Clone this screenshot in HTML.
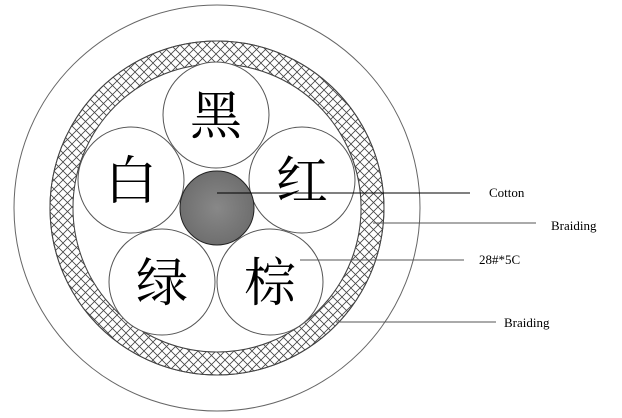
<!DOCTYPE html>
<html><head><meta charset="utf-8"><style>
html,body{margin:0;padding:0;background:#fff;}
svg{display:block;}
text{font-family:"Liberation Serif","Noto Serif CJK SC",serif;}
</style></head><body>
<svg width="622" height="418" viewBox="0 0 622 418" xmlns="http://www.w3.org/2000/svg">
<defs>
<pattern id="h" width="9" height="9" patternUnits="userSpaceOnUse">
<path d="M0 0L9 9M9 0L0 9" stroke="#444" stroke-width="0.8" fill="none"/>
</pattern>
<radialGradient id="g" cx="0.5" cy="0.5" r="0.6">
<stop offset="0" stop-color="#888"/><stop offset="1" stop-color="#6a6a6a"/>
</radialGradient>
</defs>
<circle cx="217" cy="208" r="203" fill="#fff" stroke="#666" stroke-width="1"/>
<path d="M217 41 A167 167 0 1 1 216.9 41 Z M217 64 A144 144 0 1 0 217.1 64 Z" fill="url(#h)" fill-rule="evenodd" stroke="#444" stroke-width="1"/>
<circle cx="217" cy="208" r="167" fill="none" stroke="#444"/>
<circle cx="217" cy="208" r="144" fill="#fff" stroke="#444"/>
<g fill="#fff" stroke="#555" stroke-width="1">
<circle cx="216" cy="115" r="53"/>
<circle cx="131" cy="180" r="53"/>
<circle cx="302" cy="180" r="53"/>
<circle cx="162" cy="282" r="53"/>
<circle cx="270" cy="282" r="53"/>
</g>
<circle cx="217" cy="208" r="37" fill="url(#g)" stroke="#222"/>
<g font-size="52" text-anchor="middle" fill="#000">
<text x="216" y="134">黑</text>
<text x="131" y="199">白</text>
<text x="302" y="199">红</text>
<text x="162" y="301">绿</text>
<text x="270" y="301">棕</text>
</g>
<g stroke="#000" stroke-width="1">
<line x1="217" y1="193" x2="470" y2="193"/>
<line x1="373" y1="223" x2="536" y2="223" stroke="#555"/>
<line x1="300" y1="260" x2="464" y2="260" stroke="#555"/>
<line x1="336" y1="322" x2="496" y2="322" stroke="#555"/>
</g>
<g font-size="13" fill="#000">
<text x="489" y="197">Cotton</text>
<text x="551" y="230">Braiding</text>
<text x="479" y="264">28#*5C</text>
<text x="504" y="327">Braiding</text>
</g>
</svg>
</body></html>
